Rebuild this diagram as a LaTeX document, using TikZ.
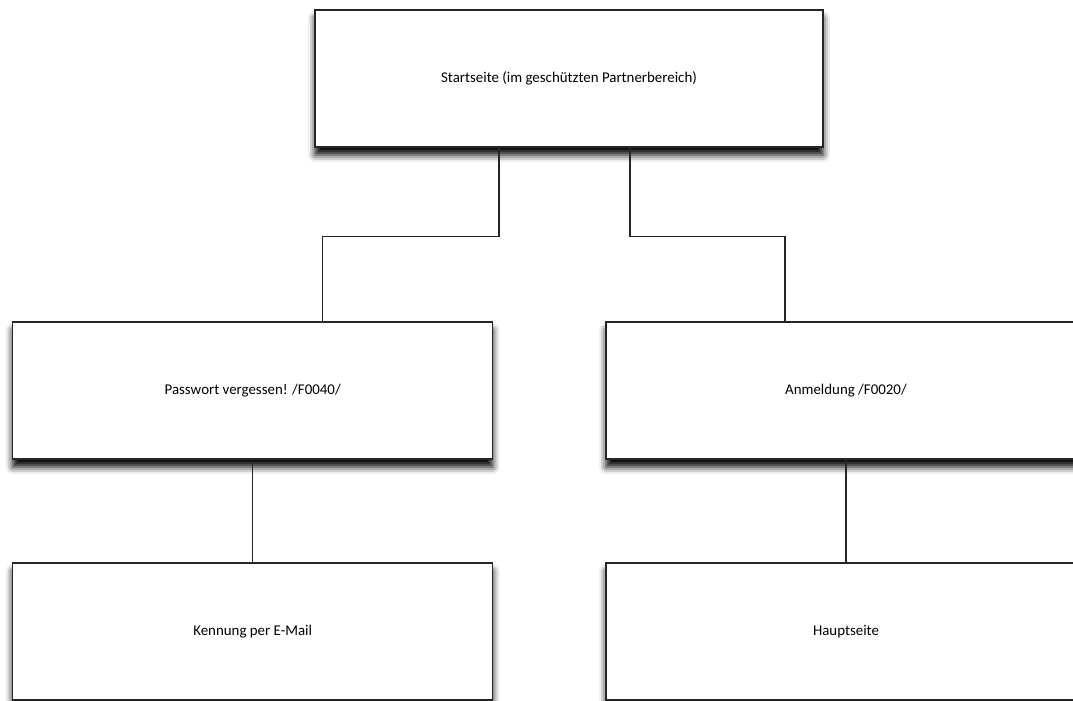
\documentclass[tikz,border=0pt]{standalone}
\usepackage{fontspec}
\setmainfont{Carlito}
\usepackage{tikz}
\usetikzlibrary{positioning,shadows.blur}

\begin{document}
\begin{tikzpicture}[x=1pt, y=-1pt,
  every node/.style={font=\fontsize{14.9}{17}\selectfont},
  page/.style={draw=black!85, line width=1.4pt, fill=white, minimum width=480pt, minimum height=137pt,
    blur shadow={shadow xshift=0pt, shadow yshift=-8pt, shadow blur radius=7pt, shadow opacity=100}},
  link/.style={draw=black!85, line width=1.4pt}]
\useasboundingbox (0,0) rectangle (1073,701);
\clip (0,0) rectangle (1073,701);
% top level
\node[page, minimum width=508pt] (start) at (569,78.5) {Startseite (im geschützten Partnerbereich)};
% second level
\node[page] (pwvergessen) at (252.7,390.5) {Passwort vergessen! /F0040/};
\node[page] (anmeldung) at (846,390.5) {Anmeldung /F0020/};
% third level
\node[page] (kennung) at (252.7,631.5) {Kennung per E-Mail};
\node[page] (hauptseite) at (846,631.5) {Hauptseite};
% connectors
\draw[link] ([xshift=-70pt]start.south) -- ++(0,89) -| ([xshift=70pt]pwvergessen.north);
\draw[link] ([xshift=61pt]start.south) -- ++(0,89) -| ([xshift=-61pt]anmeldung.north);
\draw[link] (pwvergessen.south) -- (kennung.north);
\draw[link] (anmeldung.south) -- (hauptseite.north);
\end{tikzpicture}
\end{document}
